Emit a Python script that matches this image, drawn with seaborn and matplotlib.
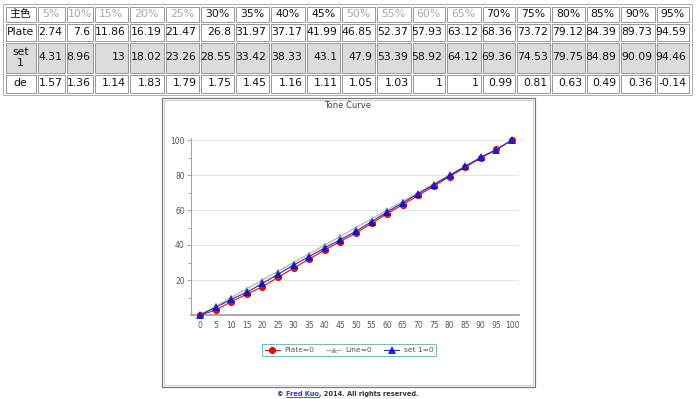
import numpy as np
import pandas as pd
import seaborn as sns
import matplotlib
matplotlib.use("Agg")
import matplotlib.pyplot as plt
from matplotlib.patches import Rectangle
from matplotlib.lines import Line2D

# ---------------- data ----------------
row_header = "主色"
pct_labels = ["5%", "10%", "15%", "20%", "25%", "30%", "35%", "40%", "45%", "50%",
              "55%", "60%", "65%", "70%", "75%", "80%", "85%", "90%", "95%"]
muted_cols = ["5%", "10%", "15%", "20%", "25%", "50%", "55%", "60%", "65%"]
plate = [2.74, 7.6, 11.86, 16.19, 21.47, 26.8, 31.97, 37.17, 41.99, 46.85,
         52.37, 57.93, 63.12, 68.36, 73.72, 79.12, 84.39, 89.73, 94.59]
set1 = [4.31, 8.96, 13, 18.02, 23.26, 28.55, 33.42, 38.33, 43.1, 47.9,
        53.39, 58.92, 64.12, 69.36, 74.53, 79.75, 84.89, 90.09, 94.46]
de = [1.57, 1.36, 1.14, 1.83, 1.79, 1.75, 1.45, 1.16, 1.11, 1.05,
      1.03, 1, 1, 0.99, 0.81, 0.63, 0.49, 0.36, -0.14]
row_names = ["Plate", "set\n1", "de"]

x_levels = [0, 5, 10, 15, 20, 25, 30, 35, 40, 45, 50, 55, 60, 65, 70, 75, 80, 85, 90, 95, 100]
plate_curve = [0] + plate + [100]
line_curve = x_levels
set1_curve = [0] + set1 + [100]

chart_title = "Tone Curve"
legend_labels = ["Plate=0", "Line=0", "set 1=0"]
footer_parts = ["© ", "Fred Kuo", ", 2014. All rights reserved."]

# ---------------- layout ----------------
W, H = 698, 399
PT = 0.72  # points per pixel at dpi 100
col_widths = [32, 29, 28, 35, 36, 35, 35, 35, 36, 35, 35, 36, 34, 36, 34, 35, 35, 34, 36, 34, 34]
col_widths = col_widths[:len(pct_labels) + 1]
table_left = 5
row_edges = [6, 23, 42, 74, 94]

sns.set_theme(style="white")
plt.rcParams["font.family"] = ["DejaVu Sans", "Noto Sans CJK SC"]

fig = plt.figure(figsize=(W / 100, H / 100), dpi=100)
fig.patch.set_facecolor("white")

bg = fig.add_axes([0, 0, 1, 1], zorder=0)
bg.set_xlim(0, W)
bg.set_ylim(H, 0)
bg.axis("off")

# ---------------- table ----------------
col_edges = [table_left]
for w in col_widths:
    col_edges.append(col_edges[-1] + w)

bg.add_patch(Rectangle((col_edges[0] - 2, row_edges[0] - 2),
                       col_edges[-1] - col_edges[0] + 4, row_edges[-1] - row_edges[0] + 3,
                       facecolor="white", edgecolor="#b0b0b0", lw=1 * PT))

table_rows = [[row_header] + pct_labels,
              [row_names[0]] + [f"{v:g}" for v in plate],
              [row_names[1]] + [f"{v:g}" for v in set1],
              [row_names[2]] + [f"{v:g}" for v in de]]
fsz = 7.8
for r, row in enumerate(table_rows):
    y0, y1 = row_edges[r], row_edges[r + 1]
    face = "#dcdcdc" if r == 2 else "white"
    for c, txt in enumerate(row):
        x0, x1 = col_edges[c], col_edges[c + 1]
        bg.add_patch(Rectangle((x0 + 0.5, y0 + 0.5), x1 - x0 - 2, y1 - y0 - 2,
                               facecolor=face, edgecolor="#9a9a9a", lw=1 * PT))
        yc = (y0 + y1) / 2 - 0.5
        if r == 0 or c == 0:
            color = "#a8a8a8" if (r == 0 and txt in muted_cols) else "#111111"
            bg.text((x0 + x1) / 2 - 0.5, yc, txt, ha="center", va="center",
                    fontsize=fsz, color=color, linespacing=1.1)
        else:
            bg.text(x1 - 3.5, yc, txt, ha="right", va="center", fontsize=fsz, color="#111111")

# ---------------- chart panel ----------------
bg.add_patch(Rectangle((162, 98), 373, 289, facecolor="white", edgecolor="#777777", lw=1.2 * PT))
bg.add_patch(Rectangle((164, 100), 369, 285, facecolor="none", edgecolor="#d0d0d0", lw=1 * PT))
bg.text(348, 106, chart_title, ha="center", va="center", fontsize=6, color="#444444")

px_per_x = 3.12
px_per_y = 1.75
ax_left, ax_right = 191, 519
x0_px, y0_px = 200, 315
ylim_top = 101
ax = fig.add_axes([ax_left / W, (H - y0_px) / H, (ax_right - ax_left) / W,
                   ylim_top * px_per_y / H], zorder=2)
ax.set_facecolor("none")

df = pd.DataFrame({"x": x_levels, "Plate": plate_curve, "Line": line_curve, "set 1": set1_curve})

sns.lineplot(data=df, x="x", y="Plate", ax=ax, color="#e01010", lw=0.8, marker="o",
             markersize=5.2, markeredgewidth=0, label=legend_labels[0], clip_on=False, zorder=3)
sns.lineplot(data=df, x="x", y="Line", ax=ax, color="#b0b0b0", lw=0.8, marker="^",
             markersize=3.8, markeredgewidth=0, label=legend_labels[1], clip_on=False, zorder=4)
sns.lineplot(data=df, x="x", y="set 1", ax=ax, color="#1010c0", lw=0.8, marker="^",
             markersize=5.2, markeredgewidth=0, alpha=0.9, label=legend_labels[2], clip_on=False, zorder=5)

ax.set_xlim(-(x0_px - ax_left) / px_per_x, 100 + (ax_right - 512) / px_per_x)
ax.set_ylim(0, ylim_top)
ax.set_xticks(x_levels)
ax.set_xticklabels([str(v) for v in x_levels])
ax.set_yticks([20, 40, 60, 80, 100])
ax.set_yticks([10, 30, 50, 70, 90], minor=True)
ax.set_xlabel("")
ax.set_ylabel("")
ax.tick_params(axis="x", bottom=False, length=0, pad=4, labelsize=5.5, labelcolor="#555555")
ax.tick_params(axis="y", which="major", left=True, length=3, width=0.6, color="#999999",
               pad=1.5, labelsize=5.5, labelcolor="#555555")
ax.tick_params(axis="y", which="minor", left=True, length=2, width=0.6, color="#999999")
ax.yaxis.grid(True, which="major", color="#e6e6e6", lw=0.8)
ax.set_axisbelow(True)
for s in ["top", "right"]:
    ax.spines[s].set_visible(False)
ax.spines["left"].set_color("#a0a0a0")
ax.spines["left"].set_linewidth(0.7)
ax.spines["bottom"].set_color("#a8a8a8")
ax.spines["bottom"].set_linewidth(1.4)

leg = ax.legend(loc="center", bbox_to_anchor=(349 / W, 1 - 350 / H), bbox_transform=fig.transFigure,
                ncol=3, fontsize=5.4, frameon=True, fancybox=False, edgecolor="#5aaaa8",
                handlelength=2.0, columnspacing=1.6, handletextpad=0.6, borderpad=0.4,
                labelcolor="#555555")
leg.get_frame().set_linewidth(0.8)

# ---------------- footer ----------------
t1 = bg.text(277, 394, footer_parts[0], ha="left", va="center", fontsize=4.8, color="#333333",
             fontweight="bold")
t2 = bg.annotate(footer_parts[1], xy=(1, 0), xycoords=t1, va="bottom", ha="left",
                 fontsize=4.8, color="#2a3fd0", fontweight="bold")
t3 = bg.annotate(footer_parts[2], xy=(1, 0), xycoords=t2, va="bottom", ha="left",
                 fontsize=4.8, color="#333333", fontweight="bold")
fig.canvas.draw()
bb = t2.get_window_extent()
inv = bg.transData.inverted()
(ux0, uy0), (ux1, uy1) = inv.transform([[bb.x0, bb.y0], [bb.x1, bb.y0]])
bg.add_line(Line2D([ux0, ux1], [uy0 - 0.5, uy0 - 0.5], color="#2a3fd0", lw=0.6))

fig.savefig("out.png", dpi=100, facecolor="white")
